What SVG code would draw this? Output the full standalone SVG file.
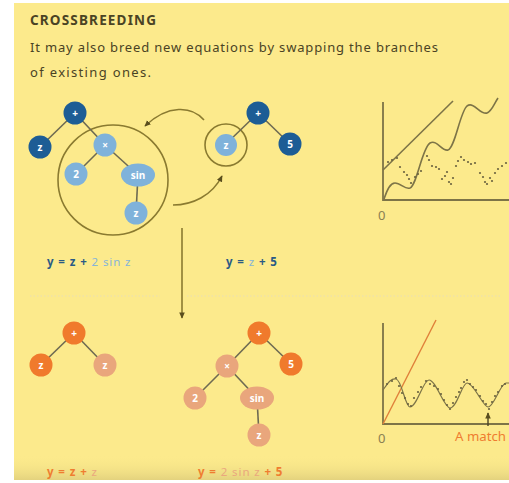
<svg xmlns="http://www.w3.org/2000/svg" width="509" height="483" viewBox="0 0 509 483">
<style>
.title{font-family:"Noto Sans","Liberation Sans",sans-serif;font-weight:bold;font-size:13.5px;fill:#4a4324}
.body{font-family:"Noto Sans","Liberation Sans",sans-serif;font-size:13px;fill:#4a4324}
.lbl{font-family:"Noto Sans","Liberation Sans",sans-serif;font-weight:bold;font-size:11.5px;letter-spacing:0.9px}
.nt{font-family:"Noto Sans","Liberation Sans",sans-serif;font-weight:bold;font-size:10px;fill:#ffffff;text-anchor:middle;dominant-baseline:central}
.edge{stroke:#6e6a52;stroke-width:1.6;fill:none}
.conn{stroke:#8a7a30;stroke-width:1.6;fill:none}
.axis{stroke:#7d7447;stroke-width:1.8;fill:none}
.db{fill:#1d5d95}.lb{fill:#7fb2da}.or{fill:#f07a2c}.pe{fill:#e9a67c}
.tdb{fill:#2a5a85}.tlb{fill:#86b4d8}.tor{fill:#ef7d30}.tpe{fill:#eaa77e}
.dot{fill:#6b6340}
</style>
<defs>
<marker id="ah" viewBox="0 0 10 10" refX="8" refY="5" markerWidth="7" markerHeight="7" orient="auto-start-reverse" markerUnits="userSpaceOnUse">
<path d="M0,1 L9,5 L0,9 Z" fill="#5a4e1e"/>
</marker>
<linearGradient id="shade" x1="0" y1="0" x2="0" y2="1">
<stop offset="0" stop-color="#fcea8c" stop-opacity="0"/>
<stop offset="1" stop-color="#d9c878" stop-opacity="0.7"/>
</linearGradient>
</defs>
<rect x="0" y="0" width="509" height="483" fill="#ffffff"/>
<rect x="14" y="3" width="495" height="477" fill="#fcea8c"/>
<rect x="14" y="455" width="495" height="25" fill="url(#shade)"/>

<text class="title" x="30" y="25" textLength="126" lengthAdjust="spacing">CROSSBREEDING</text>
<text class="body" x="30" y="52" textLength="408" lengthAdjust="spacing">It may also breed new equations by swapping the branches</text>
<text class="body" x="30" y="77" textLength="121" lengthAdjust="spacing">of existing ones.</text>

<g id="separator">
<line x1="30" y1="296" x2="160" y2="296" stroke="#eee2a8" stroke-width="1.5" stroke-dasharray="1.5 2"/>
<line x1="187" y1="296" x2="500" y2="296" stroke="#eee2a8" stroke-width="1.5" stroke-dasharray="1.5 2"/>
</g>

<g id="connectors">
<path class="conn" d="M204,120 C192,106 168,104 145,126" marker-end="url(#ah)"/>
<path class="conn" d="M173,205 C192,205 212,196 222,176" marker-end="url(#ah)"/>
<line class="conn" x1="182" y1="228" x2="182" y2="318" marker-end="url(#ah)"/>
<circle class="conn" cx="113" cy="180" r="55"/>
<circle class="conn" cx="226" cy="145" r="21"/>
</g>

<g id="tree1">
<line class="edge" x1="75" y1="113" x2="40" y2="147"/>
<line class="edge" x1="75" y1="113" x2="105" y2="145"/>
<line class="edge" x1="105" y1="145" x2="76" y2="174"/>
<line class="edge" x1="105" y1="145" x2="138" y2="175"/>
<line class="edge" x1="138" y1="175" x2="136" y2="213"/>
<g id="t1-plus"><circle class="db" cx="75" cy="113" r="11.5"/><text class="nt" x="75" y="113">+</text></g>
<g id="t1-z"><circle class="db" cx="40" cy="147" r="11.5"/><text class="nt" x="40" y="147">z</text></g>
<g id="t1-times"><circle class="lb" cx="105" cy="145" r="11.5"/><text class="nt" x="105" y="145">×</text></g>
<g id="t1-2"><circle class="lb" cx="76" cy="174" r="11.5"/><text class="nt" x="76" y="174">2</text></g>
<g id="t1-sin"><ellipse class="lb" cx="138" cy="175" rx="17" ry="11.5"/><text class="nt" x="138" y="175">sin</text></g>
<g id="t1-z2"><circle class="lb" cx="136" cy="213" r="11.5"/><text class="nt" x="136" y="213">z</text></g>
</g>

<g id="tree2">
<line class="edge" x1="258" y1="113" x2="226" y2="144"/>
<line class="edge" x1="258" y1="113" x2="290" y2="144"/>
<g id="t2-plus"><circle class="db" cx="258" cy="113" r="11.5"/><text class="nt" x="258" y="113">+</text></g>
<g id="t2-z"><circle class="lb" cx="226" cy="145" r="11"/><text class="nt" x="226" y="145">z</text></g>
<g id="t2-5"><circle class="db" cx="290" cy="144" r="11.5"/><text class="nt" x="290" y="144">5</text></g>
</g>

<g id="label1"><text class="lbl" x="47" y="266"><tspan class="tdb">y = z + </tspan><tspan class="tlb" font-weight="normal">2 sin z</tspan></text></g>
<g id="label2"><text class="lbl" x="226" y="266"><tspan class="tdb">y = </tspan><tspan class="tlb" font-weight="normal">z</tspan><tspan class="tdb"> + 5</tspan></text></g>

<g id="tree3">
<line class="edge" x1="74" y1="333" x2="41" y2="365"/>
<line class="edge" x1="74" y1="333" x2="105" y2="365"/>
<g id="t3-plus"><circle class="or" cx="74" cy="333" r="11.5"/><text class="nt" x="74" y="333">+</text></g>
<g id="t3-z"><circle class="or" cx="41" cy="365" r="11.5"/><text class="nt" x="41" y="365">z</text></g>
<g id="t3-z2"><circle class="pe" cx="105" cy="365" r="11.5"/><text class="nt" x="105" y="365">z</text></g>
</g>

<g id="tree4">
<line class="edge" x1="259" y1="333" x2="227" y2="366"/>
<line class="edge" x1="259" y1="333" x2="291" y2="364"/>
<line class="edge" x1="227" y1="366" x2="195" y2="398"/>
<line class="edge" x1="227" y1="366" x2="257" y2="398"/>
<line class="edge" x1="257" y1="398" x2="259" y2="435"/>
<g id="t4-plus"><circle class="or" cx="259" cy="333" r="11.5"/><text class="nt" x="259" y="333">+</text></g>
<g id="t4-5"><circle class="or" cx="291" cy="364" r="11.5"/><text class="nt" x="291" y="364">5</text></g>
<g id="t4-times"><circle class="pe" cx="227" cy="366" r="11.5"/><text class="nt" x="227" y="366">×</text></g>
<g id="t4-2"><circle class="pe" cx="195" cy="398" r="11.5"/><text class="nt" x="195" y="398">2</text></g>
<g id="t4-sin"><ellipse class="pe" cx="257" cy="398" rx="17" ry="11.5"/><text class="nt" x="257" y="398">sin</text></g>
<g id="t4-z"><circle class="pe" cx="259" cy="435" r="11.5"/><text class="nt" x="259" y="435">z</text></g>
</g>

<g id="label3"><text class="lbl" x="47" y="476"><tspan class="tor">y = z + </tspan><tspan class="tpe" font-weight="normal">z</tspan></text></g>
<g id="label4"><text class="lbl" x="198" y="476"><tspan class="tor">y = </tspan><tspan class="tpe" font-weight="normal">2 sin z</tspan><tspan class="tor"> + 5</tspan></text></g>

<g id="graph1">
<path class="axis" d="M383,102 L383,200 L509,200"/>
<text class="body" x="378" y="220" style="fill:#8a8052">0</text>
<line x1="383" y1="170" x2="453" y2="101" stroke="#7d7447" stroke-width="1.6"/>
<path d="M384,199 C387,190 390,183 395,183 C401,183 405,190 410,188 C417,185 422,148 430,143 C437,139 442,152 448,150 C455,148 460,112 467,106 C474,101 480,115 487,113 C492,111 494,104 498,98" stroke="#7d7447" stroke-width="1.6" fill="none"/>
<g class="dot">
<circle cx="388" cy="162" r="1.1"/><circle cx="392" cy="160" r="1.1"/><circle cx="397" cy="158" r="1.1"/><circle cx="400" cy="167" r="1.1"/><circle cx="404" cy="172" r="1.1"/><circle cx="407" cy="175" r="1.1"/><circle cx="409" cy="179" r="1.1"/><circle cx="411" cy="183" r="1.1"/><circle cx="415" cy="177" r="1.1"/><circle cx="418" cy="174" r="1.1"/><circle cx="421" cy="171" r="1.1"/><circle cx="427" cy="156" r="1.1"/><circle cx="429" cy="160" r="1.1"/><circle cx="432" cy="166" r="1.1"/><circle cx="436" cy="167" r="1.1"/><circle cx="439" cy="169" r="1.1"/><circle cx="442" cy="179" r="1.1"/><circle cx="445" cy="176" r="1.1"/><circle cx="447" cy="172" r="1.1"/><circle cx="449" cy="182" r="1.1"/><circle cx="451" cy="184" r="1.1"/><circle cx="453" cy="178" r="1.1"/><circle cx="456" cy="166" r="1.1"/><circle cx="458" cy="161" r="1.1"/><circle cx="461" cy="157" r="1.1"/><circle cx="464" cy="160" r="1.1"/><circle cx="468" cy="162" r="1.1"/><circle cx="471" cy="164" r="1.1"/><circle cx="475" cy="163" r="1.1"/><circle cx="480" cy="173" r="1.1"/><circle cx="483" cy="177" r="1.1"/><circle cx="485" cy="182" r="1.1"/><circle cx="487" cy="184" r="1.1"/><circle cx="490" cy="178" r="1.1"/><circle cx="492" cy="181" r="1.1"/><circle cx="495" cy="173" r="1.1"/><circle cx="498" cy="169" r="1.1"/><circle cx="502" cy="166" r="1.1"/><circle cx="506" cy="163" r="1.1"/>
</g>
</g>

<g id="graph2">
<path class="axis" d="M383,323 L383,424 L509,424"/>
<text class="body" x="378" y="443" style="fill:#8a8052">0</text>
<line x1="383" y1="424" x2="436" y2="320" stroke="#e0803a" stroke-width="1.4"/>
<path d="M383,390 C388,383 391,378 396,379 C402,380 405,407 410,407 C417,407 423,380 429,380 C436,380 444,408 450,408 C457,408 462,383 467,383 C474,383 483,407 488,407 C494,407 500,384 506,383 L509,383" stroke="#7d7447" stroke-width="1.2" fill="none"/>
<g class="dot">
<circle cx="387" cy="384" r="1.1"/><circle cx="392" cy="381" r="1.1"/><circle cx="396" cy="378" r="1.1"/><circle cx="399" cy="386" r="1.1"/><circle cx="402" cy="393" r="1.1"/><circle cx="405" cy="398" r="1.1"/><circle cx="408" cy="404" r="1.1"/><circle cx="411" cy="406" r="1.1"/><circle cx="414" cy="398" r="1.1"/><circle cx="418" cy="392" r="1.1"/><circle cx="421" cy="387" r="1.1"/><circle cx="426" cy="381" r="1.1"/><circle cx="430" cy="384" r="1.1"/><circle cx="434" cy="386" r="1.1"/><circle cx="438" cy="389" r="1.1"/><circle cx="441" cy="394" r="1.1"/><circle cx="444" cy="400" r="1.1"/><circle cx="447" cy="405" r="1.1"/><circle cx="450" cy="409" r="1.1"/><circle cx="453" cy="403" r="1.1"/><circle cx="456" cy="397" r="1.1"/><circle cx="459" cy="392" r="1.1"/><circle cx="461" cy="388" r="1.1"/><circle cx="464" cy="382" r="1.1"/><circle cx="467" cy="380" r="1.1"/><circle cx="470" cy="384" r="1.1"/><circle cx="473" cy="387" r="1.1"/><circle cx="476" cy="390" r="1.1"/><circle cx="480" cy="396" r="1.1"/><circle cx="483" cy="401" r="1.1"/><circle cx="486" cy="404" r="1.1"/><circle cx="489" cy="409" r="1.1"/><circle cx="492" cy="402" r="1.1"/><circle cx="495" cy="396" r="1.1"/><circle cx="498" cy="392" r="1.1"/><circle cx="502" cy="386" r="1.1"/><circle cx="505" cy="384" r="1.1"/>
</g>
<line x1="488" y1="426" x2="488" y2="413" stroke="#4a4324" stroke-width="1.4" marker-end="url(#ah)"/>
<text class="body" x="455" y="441" textLength="51" lengthAdjust="spacingAndGlyphs" style="fill:#ef7d30;font-size:13px">A match</text>
</g>
</svg>
